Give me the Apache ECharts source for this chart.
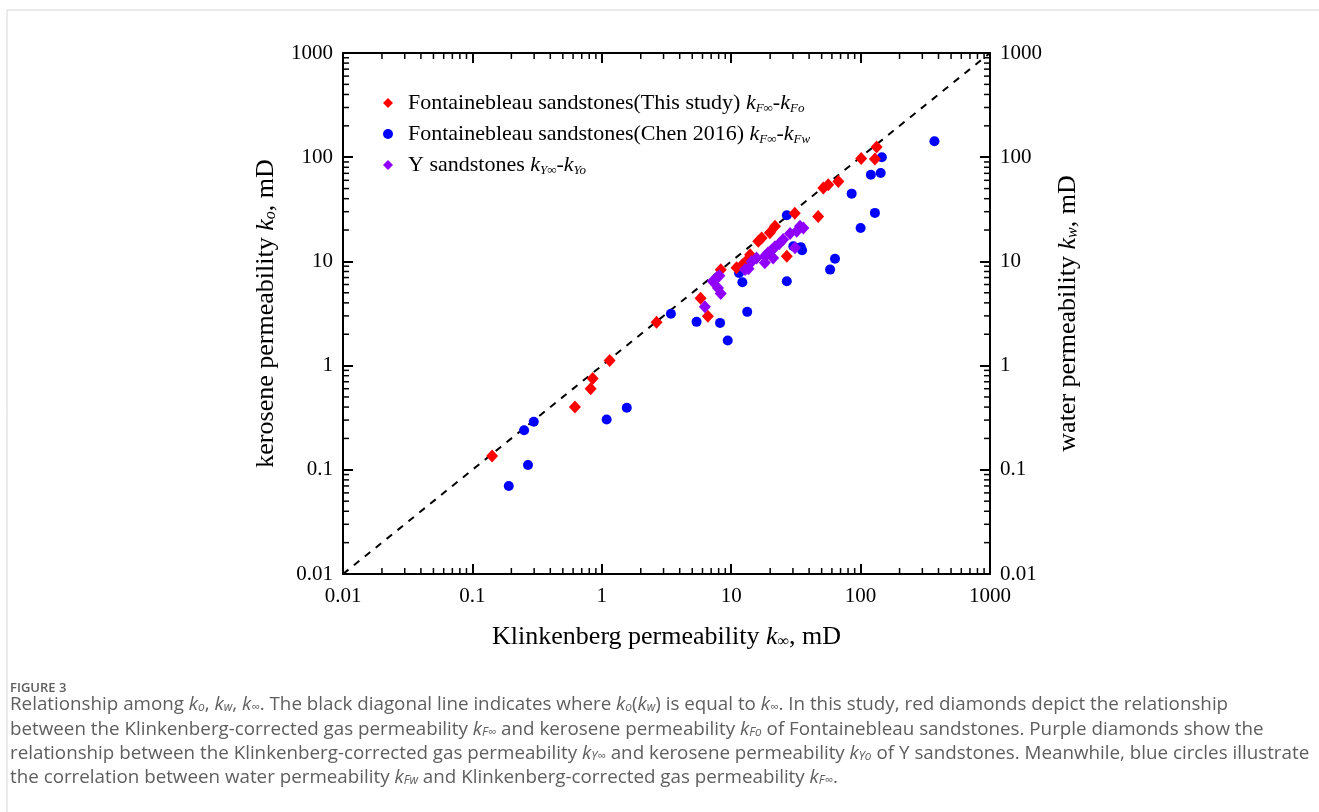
<!DOCTYPE html>
<html>
<head>
<meta charset="utf-8">
<script src="https://cdn.jsdelivr.net/npm/echarts@6/dist/echarts.min.js"></script>
<style>
html,body{margin:0;padding:0;background:#fff;}
#chart{width:1319px;height:812px;}
</style>
</head>
<body>
<div id="chart"></div>
<script>
// ---- data ----
const tickValues = [0.01, 0.1, 1, 10, 100, 1000];
const tickLabels = ['0.01', '0.1', '1', '10', '100', '1000'];

const thisStudyX = [0.142, 0.62, 0.82, 0.85, 1.15, 2.65, 5.8, 6.6, 8.3, 11.0, 12.2, 13.6, 14.0, 16.2, 17.2, 19.9, 21.8, 26.9, 31.0, 47.0, 51.5, 56.2, 67.3, 101, 129, 133];
const thisStudyY = [0.136, 0.40, 0.60, 0.75, 1.12, 2.60, 4.42, 2.97, 8.3, 8.7, 9.3, 10.6, 11.6, 15.6, 16.8, 18.8, 21.7, 11.2, 29.0, 27.0, 50.7, 54.5, 58.6, 97, 96, 125];

const chenX = [0.191, 0.251, 0.269, 0.298, 1.09, 1.56, 3.42, 5.4, 8.2, 9.4, 11.5, 12.2, 13.3, 26.9, 26.9, 30.2, 34.5, 35.3, 58.1, 63.4, 85.3, 100, 120, 129, 143, 146, 372];
const chenY = [0.070, 0.240, 0.111, 0.289, 0.304, 0.394, 3.14, 2.63, 2.57, 1.74, 7.76, 6.31, 3.28, 27.7, 6.45, 14.0, 13.7, 12.8, 8.34, 10.6, 44.7, 20.9, 67.9, 29.2, 70.5, 100, 142];

const ySandX = [6.26, 7.2, 7.7, 8.1, 7.9, 8.3, 12.8, 13.6, 14.4, 15.7, 18.2, 18.2, 19.3, 20.5, 21.1, 21.8, 23.5, 25.2, 28.5, 31.1, 32.1, 34.0, 36.1];
const ySandY = [3.67, 6.45, 6.95, 7.3, 5.57, 4.91, 8.34, 8.5, 10.0, 10.8, 11.2, 9.7, 12.1, 12.8, 10.8, 13.8, 14.8, 16.2, 18.5, 13.5, 19.5, 21.7, 20.9];

const diagonalX = [0.01, 1000];
const diagonalY = [0.01, 1000];

const seriesNames = ['thisStudy', 'chen', 'ySand'];

// ---- build ----
const zip = (a, b) => a.map((v, i) => [v, b[i]]);
const minorTicks = [];
for (let d = 0; d < tickValues.length - 1; d++) {
  for (let m = 2; m <= 9; m++) minorTicks.push([tickValues[d] * m, tickValues[d] * m]);
}
const labelFmt = v => {
  const i = tickValues.findIndex(t => Math.abs(Math.log10(t) - Math.log10(v)) < 1e-6);
  return i >= 0 ? tickLabels[i] : '';
};

const SERIF = '"Liberation Serif", "Times New Roman", serif';
const SANS = '"Open Sans", "Noto Sans", sans-serif';
const richSerif = (fs, sub) => ({
  p: {fontFamily: SERIF, fontSize: fs, width: 10},
  t: {fontFamily: SERIF, fontSize: fs, color: '#000'},
  k: {fontFamily: SERIF, fontSize: fs, fontStyle: 'italic', color: '#000'},
  s: {fontFamily: SERIF, fontSize: Math.round(fs * (sub || 0.62)), fontStyle: 'italic', color: '#000', verticalAlign: 'bottom', lineHeight: Math.round(fs * 0.62)}
});

const legendText = {
  thisStudy: '{p| }{t|Fontainebleau sandstones(This study) }{k|k}{s|F∞}{t|-}{k|k}{s|Fo}',
  chen: '{p| }{t|Fontainebleau sandstones(Chen 2016) }{k|k}{s|F∞}{t|-}{k|k}{s|Fw}',
  ySand: '{p| }{t|Y sandstones }{k|k}{s|Y∞}{t|-}{k|k}{s|Yo}'
};

const axisCommon = {
  type: 'log', logBase: 10, min: 0.01, max: 1000,
  axisLine: {show: true, onZero: false, lineStyle: {color: '#000', width: 2}},
  axisTick: {show: true, inside: true, length: 10, lineStyle: {color: '#000', width: 2}},
  splitLine: {show: false},
  minorTick: {show: false},
};

const CAPC = '#5e5e5e';
const capRich = {
  n: {fontFamily: SANS, fontSize: 18.8, color: CAPC},
  k: {fontFamily: SANS, fontSize: 18.8, fontStyle: 'italic', color: CAPC},
  s: {fontFamily: SANS, fontSize: 12, fontStyle: 'italic', color: CAPC, verticalAlign: 'bottom', lineHeight: 11}
};
const capLines = [
  '{n|Relationship among }{k|k}{s|o}{n|, }{k|k}{s|w}{n|, }{k|k}{s|∞}{n|. The black diagonal line indicates where }{k|k}{s|o}{n|(}{k|k}{s|w}{n|) is equal to }{k|k}{s|∞}{n|. In this study, red diamonds depict the relationship}',
  '{n|between the Klinkenberg-corrected gas permeability }{k|k}{s|F∞}{n| and kerosene permeability }{k|k}{s|Fo}{n| of Fontainebleau sandstones. Purple diamonds show the}',
  '{n|relationship between the Klinkenberg-corrected gas permeability }{k|k}{s|Y∞}{n| and kerosene permeability }{k|k}{s|Yo}{n| of Y sandstones. Meanwhile, blue circles illustrate}',
  '{n|the correlation between water permeability }{k|k}{s|Fw}{n| and Klinkenberg-corrected gas permeability }{k|k}{s|F∞}{n|.}'
];
const capY = [708, 733, 757, 781];

const chart = echarts.init(document.getElementById('chart'), null, {renderer: 'canvas'});
chart.setOption({
  backgroundColor: '#fff',
  animation: false,
  grid: {left: 343, top: 53, width: 647, height: 521},
  legend: {
    orient: 'vertical', left: 378, top: 86, itemGap: 7, itemWidth: 10, itemHeight: 10,
    data: seriesNames,
    formatter: n => legendText[n],
    textStyle: {rich: richSerif(22, 0.6), lineHeight: 24}
  },
  xAxis: [
    Object.assign({}, axisCommon, {
      position: 'bottom',
      axisLabel: {show: true, margin: 12, formatter: labelFmt, fontFamily: SERIF, fontSize: 21, color: '#000'},
      name: '{t|Klinkenberg permeability }{k|k}{s|∞}{t|, mD}',
      nameLocation: 'middle', nameGap: 50,
      nameTextStyle: {rich: richSerif(26)}
    }),
    Object.assign({}, axisCommon, {position: 'top', axisLabel: {show: false}})
  ],
  yAxis: [
    Object.assign({}, axisCommon, {
      position: 'left',
      axisLabel: {show: true, margin: 10, formatter: labelFmt, fontFamily: SERIF, fontSize: 21, color: '#000'},
      name: '{t|kerosene permeability }{k|k}{s|o}{t|, mD}',
      nameLocation: 'middle', nameGap: 64, nameRotate: 90,
      nameTextStyle: {rich: richSerif(26)}
    }),
    Object.assign({}, axisCommon, {
      position: 'right',
      axisLabel: {show: true, margin: 10, formatter: labelFmt, fontFamily: SERIF, fontSize: 21, color: '#000'},
      name: '{t|water permeability }{k|k}{s|w}{t|, mD}',
      nameLocation: 'middle', nameGap: 65, nameRotate: 90,
      nameTextStyle: {rich: richSerif(26)}
    })
  ],
  graphic: [
    {type: 'rect', silent: true, shape: {x: 7, y: 10, width: 1340, height: 900}, style: {fill: 'none', stroke: '#d6d6d6', lineWidth: 1}},
    {type: 'text', left: 10, top: 682, style: {text: 'FIGURE 3', font: '600 13px ' + SANS, fill: CAPC}}
  ].concat(capLines.map((l, i) => ({
    type: 'text', left: 10, top: capY[i] - 13,
    style: {text: l, rich: capRich, fill: CAPC}
  }))),
  series: [
    {
      type: 'line', data: zip(diagonalX, diagonalY), symbol: 'none', silent: true,
      lineStyle: {color: '#000', width: 2, type: [7, 7]}, z: 1
    },
    {
      type: 'custom', silent: true, z: 1, data: minorTicks, clip: false,
      renderItem: (params, api) => {
        const cs = params.coordSys;
        const v = api.value(0);
        const px = api.coord([v, 1])[0];
        const py = api.coord([1, v])[1];
        const L = 6, st = {stroke: '#000', lineWidth: 1.5};
        return {type: 'group', children: [
          {type: 'line', shape: {x1: px, y1: cs.y + cs.height, x2: px, y2: cs.y + cs.height - L}, style: st},
          {type: 'line', shape: {x1: px, y1: cs.y, x2: px, y2: cs.y + L}, style: st},
          {type: 'line', shape: {x1: cs.x, y1: py, x2: cs.x + L, y2: py}, style: st},
          {type: 'line', shape: {x1: cs.x + cs.width, y1: py, x2: cs.x + cs.width - L, y2: py}, style: st}
        ]};
      }
    },
    {
      name: 'thisStudy', type: 'scatter', symbol: 'diamond', symbolSize: [12, 13],
      itemStyle: {color: '#ff0000', opacity: 1}, data: zip(thisStudyX, thisStudyY), z: 3
    },
    {
      name: 'chen', type: 'scatter', symbol: 'circle', symbolSize: 10,
      itemStyle: {color: '#0000ff', opacity: 1}, data: zip(chenX, chenY), z: 2
    },
    {
      name: 'ySand', type: 'scatter', symbol: 'diamond', symbolSize: [12, 13],
      itemStyle: {color: '#8f00ff', opacity: 1}, data: zip(ySandX, ySandY), z: 4
    }
  ]
});
</script>
</body>
</html>
